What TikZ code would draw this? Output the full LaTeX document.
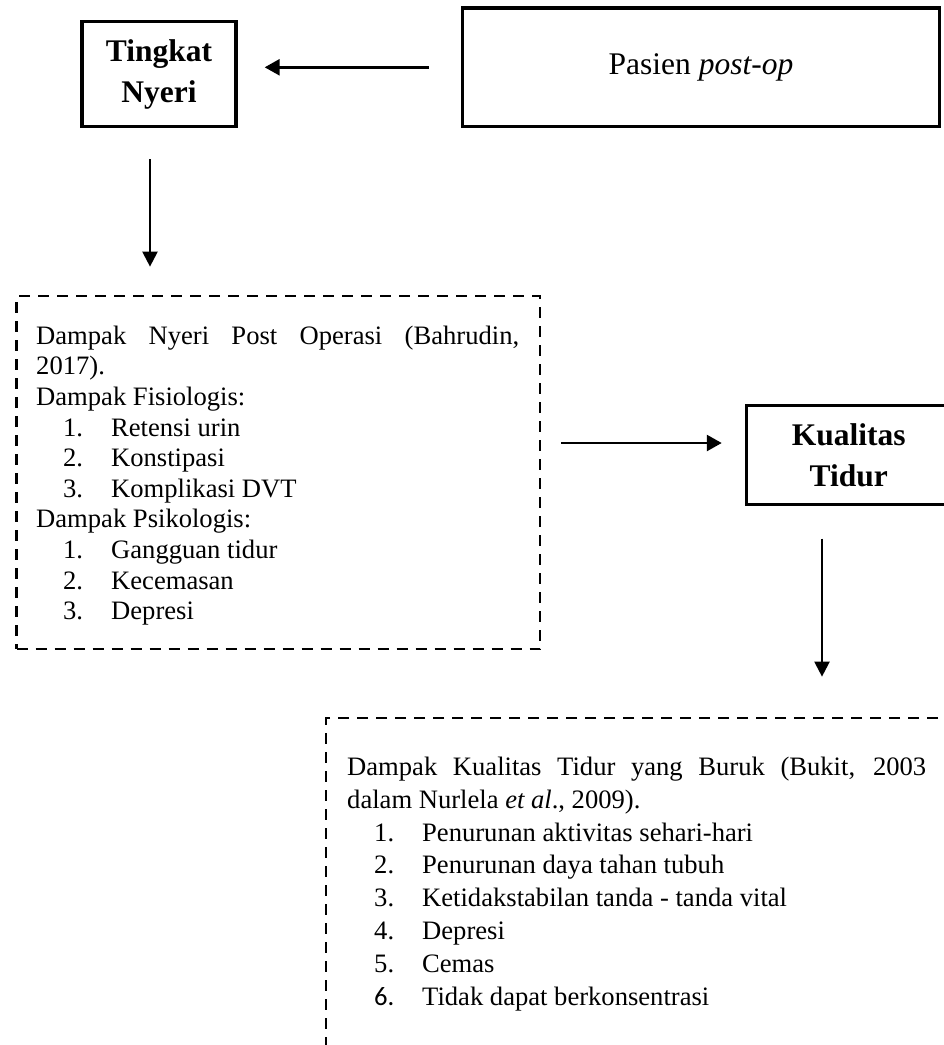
\documentclass[tikz,border=0pt]{standalone}
\usepackage{fontspec}
\setmainfont{Liberation Serif}
\newfontfamily\carlitofont{Carlito}
\usetikzlibrary{arrows.meta}
\tikzset{
  solidbox/.style={draw, line width=3.4pt, rectangle, inner sep=0pt, align=center,
    font=\bfseries\fontsize{31.5}{41}\selectfont},
  dashbox/.style={draw, line width=2.7pt, dash pattern=on 11pt off 8pt, rectangle, inner sep=0pt},
  bodytextA/.style={inner sep=0pt, anchor=north west, align=left, font=\fontsize{26.6}{30.6}\selectfont},
  bodytextB/.style={inner sep=0pt, anchor=north west, align=left, font=\fontsize{26.6}{32.9}\selectfont},
  conn/.style={line width=2.7pt, -{Triangle[length=15pt,width=16pt]}},
  vconn/.style={line width=2.2pt, -{Triangle[length=15pt,width=15pt]}},
}
\newcommand{\myitem}[2]{\hspace*{27pt}\makebox[48pt][l]{#1}#2}
\begin{document}
\begin{tikzpicture}[x=1pt,y=-1pt]
\useasboundingbox (0,0) rectangle (944,1045);
\clip (0,0) rectangle (944,1045);
% boxes
\node[solidbox, minimum width=154pt, minimum height=105pt] (tingkat) at (159,74) {\raisebox{-2pt}{Tingkat}\\\raisebox{-2pt}{Nyeri}};
\node[solidbox, font=\fontsize{31.5}{41}\selectfont, minimum width=477pt, minimum height=118.5pt] (pasien) at (701,67.3) {Pasien \textit{post-op}};
\node[solidbox, minimum width=204.5pt, minimum height=99pt] (kualitas) at (848.7,455) {Kualitas\\Tidur};
\node[dashbox, minimum width=523.5pt, minimum height=353pt] (box1) at (278.25,472.5) {};
\node[dashbox, minimum width=624pt, minimum height=352pt] (box2) at (638,894) {};
% texts
\node[bodytextA] (t1) at (36,324) {\rule{0pt}{20pt}\makebox[483pt][s]{Dampak Nyeri Post Operasi (Bahrudin,}\\
2017).\\
Dampak Fisiologis:\\
\myitem{1.}{Retensi urin}\\
\myitem{2.}{Konstipasi}\\
\myitem{3.}{Komplikasi DVT}\\
Dampak Psikologis:\\
\myitem{1.}{Gangguan tidur}\\
\myitem{2.}{Kecemasan}\\
\myitem{3.}{Depresi}};
\node[bodytextB] (t2) at (347,755) {\rule{0pt}{20pt}\makebox[579pt][s]{Dampak Kualitas Tidur yang Buruk (Bukit, 2003}\\
dalam Nurlela \textit{et al}., 2009).\\
\myitem{1.}{Penurunan aktivitas sehari-hari}\\
\myitem{2.}{Penurunan daya tahan tubuh}\\
\myitem{3.}{Ketidakstabilan tanda - tanda vital}\\
\myitem{4.}{Depresi}\\
\myitem{5.}{Cemas}\\
\myitem{{\carlitofont 6.}}{Tidak dapat berkonsentrasi}};
% connectors
\draw[conn, shorten <=32pt, shorten >=27pt] (pasien.west) -- (pasien.west -| tingkat.east);
\coordinate (d1) at ([xshift=-9pt]tingkat.south);
\draw[vconn, shorten <=31pt, shorten >=28pt] (d1) -- (d1 |- box1.north);
\coordinate (k1) at ([yshift=12pt]kualitas.west);
\draw[conn, shorten <=20pt, shorten >=23pt] (k1 -| box1.east) -- (k1);
\coordinate (d2) at ([xshift=-26.7pt]kualitas.south);
\draw[vconn, shorten <=32.5pt, shorten >=40pt] (d2) -- (d2 |- box2.north);
\end{tikzpicture}
\end{document}
